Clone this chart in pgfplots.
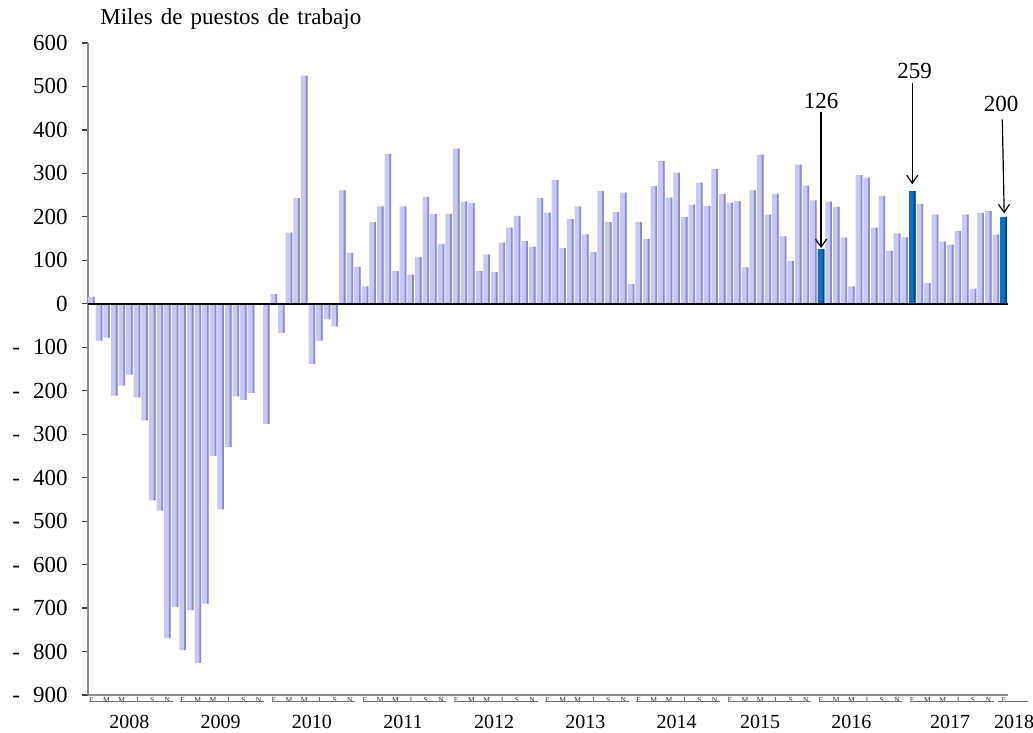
\documentclass[border=0pt]{standalone}
\usepackage{pgfplots}
\pgfplotsset{compat=1.18}
\usepackage{pgfplotstable}
\usepackage{fontspec}
\setmainfont{Liberation Serif}
\usetikzlibrary{arrows.meta}
\definecolor{barfill}{RGB}{200,200,245}
\definecolor{barshade}{RGB}{140,140,205}
\definecolor{hifill}{RGB}{16,112,190}
\definecolor{hishade}{RGB}{0,70,140}
\pgfplotstableread{
x y
0 16
1 -85
2 -78
3 -211
4 -188
5 -163
6 -215
7 -268
8 -452
9 -476
10 -769
11 -698
12 -797
13 -705
14 -826
15 -690
16 -350
17 -473
18 -330
19 -213
20 -221
21 -205
22 0
23 -276
24 22
25 -67
26 164
27 243
28 525
29 -138
30 -85
31 -36
32 -52
33 261
34 117
35 85
36 40
37 188
38 224
39 345
40 75
41 224
42 67
43 108
44 246
45 207
46 138
47 207
48 357
49 235
50 232
51 75
52 113
53 73
54 141
55 175
56 202
57 144
58 131
59 243
60 210
61 285
62 128
63 195
64 224
65 160
66 119
67 259
68 188
69 211
70 256
71 45
72 188
73 149
74 271
75 328
76 244
77 302
78 200
79 228
80 279
81 225
82 310
83 253
84 233
85 236
86 84
87 261
88 343
89 205
90 253
91 155
92 98
93 320
94 272
95 238
97 235
98 223
99 152
100 40
101 296
102 290
103 175
104 248
105 122
106 162
107 153
109 230
110 48
111 205
112 143
113 136
114 167
115 205
116 35
117 209
118 213
119 159
}\maindata
\pgfplotstableread{
x y
96 126
108 259
120 200
}\hidata
\begin{document}
\begin{tikzpicture}[x=1pt,y=1pt]
\path[use as bounding box] (0,0) rectangle (516.5,366.5);
\node[anchor=west,inner sep=0pt,font=\fontsize{11.5}{13}\selectfont] at (50,357) {Miles\hspace{0.1em} de\hspace{0.1em} puestos\hspace{0.1em} de\hspace{0.1em} trabajo};
\begin{axis}[
  at={(44pt,19pt)}, anchor=south west,
  width=460pt, height=326pt, scale only axis,
  xmin=-0.45, xmax=120.6, ymin=-900, ymax=600,
  axis x line*=bottom, axis y line*=left,
  axis line style={-, draw=black!45, line width=0.6pt},
  clip=false,
  ytick={-900,-800,-700,-600,-500,-400,-300,-200,-100,0,100,200,300,400,500,600},
  yticklabels={-\hspace{6.5pt}900,-\hspace{6.5pt}800,-\hspace{6.5pt}700,-\hspace{6.5pt}600,-\hspace{6.5pt}500,-\hspace{6.5pt}400,-\hspace{6.5pt}300,-\hspace{6.5pt}200,-\hspace{6.5pt}100,0,100,200,300,400,500,600},
  yticklabel style={font=\fontsize{11.5}{13}\selectfont, inner sep=0pt, xshift=-7pt},
  ytick style={draw=black!75, line width=0.6pt},
  tick align=outside, major tick length=3pt,
  xtick={0,2,...,120},
  xticklabels={E,M,M,J,S,N,E,M,M,J,S,N,E,M,M,J,S,N,E,M,M,J,S,N,E,M,M,J,S,N,E,M,M,J,S,N,E,M,M,J,S,N,E,M,M,J,S,N,E,M,M,J,S,N,E,M,M,J,S,N,E},
  xticklabel style={font=\fontsize{3.8}{4}\selectfont, inner sep=0pt, yshift=1.9pt, text=black!80},
  xtick style={draw=none},
]
\addplot[ybar, bar width=3.3pt, bar shift=0pt, fill=barfill, draw=none] table[x=x,y=y] {\maindata};
\addplot[ybar, bar width=0.9pt, bar shift=1.2pt, fill=barshade, draw=none] table[x=x,y=y] {\maindata};
\addplot[ybar, bar width=3.3pt, bar shift=0pt, fill=hifill, draw=none] table[x=x,y=y] {\hidata};
\addplot[ybar, bar width=0.9pt, bar shift=1.2pt, fill=hishade, draw=none] table[x=x,y=y] {\hidata};
\draw[black, line width=0.8pt] (axis cs:-0.45,0) -- (axis cs:120.6,0);
% year underlines
\begin{scope}[yshift=-3.3pt]
\draw[black!55, line width=0.6pt]
  (axis cs:-0.3,-900) -- (axis cs:10.7,-900)
  (axis cs:11.7,-900) -- (axis cs:22.7,-900)
  (axis cs:23.7,-900) -- (axis cs:34.7,-900)
  (axis cs:35.7,-900) -- (axis cs:46.7,-900)
  (axis cs:47.7,-900) -- (axis cs:58.7,-900)
  (axis cs:59.7,-900) -- (axis cs:70.7,-900)
  (axis cs:71.7,-900) -- (axis cs:82.7,-900)
  (axis cs:83.7,-900) -- (axis cs:94.7,-900)
  (axis cs:95.7,-900) -- (axis cs:106.7,-900)
  (axis cs:107.7,-900) -- (axis cs:118.7,-900)
  (axis cs:119.3,-900) -- (axis cs:123.2,-900);
\end{scope}
% year labels
\begin{scope}[every node/.style={font=\fontsize{10}{12}\selectfont, inner sep=0pt}]
\node at (axis cs:5,-900) [yshift=-13.5pt] {2008};
\node at (axis cs:17,-900) [yshift=-13.5pt] {2009};
\node at (axis cs:29,-900) [yshift=-13.5pt] {2010};
\node at (axis cs:41,-900) [yshift=-13.5pt] {2011};
\node at (axis cs:53,-900) [yshift=-13.5pt] {2012};
\node at (axis cs:65,-900) [yshift=-13.5pt] {2013};
\node at (axis cs:77,-900) [yshift=-13.5pt] {2014};
\node at (axis cs:88,-900) [yshift=-13.5pt] {2015};
\node at (axis cs:100,-900) [yshift=-13.5pt] {2016};
\node at (axis cs:113,-900) [yshift=-13.5pt] {2017};
\node at (axis cs:121.4,-900) [yshift=-13.5pt] {2018};
\end{scope}
% annotations
\begin{scope}[every node/.style={font=\fontsize{11.5}{13}\selectfont, inner sep=0pt}]
\node at (axis cs:96,466) {126};
\node at (axis cs:108.3,535) {259};
\node at (axis cs:119.7,459) {200};
\end{scope}
\draw[black, line width=0.6pt, -{Straight Barb[length=4pt,width=5.5pt]}] (axis cs:96,442) -- (axis cs:96,128);
\draw[black, line width=0.6pt, -{Straight Barb[length=4pt,width=5.5pt]}] (axis cs:108,507) -- (axis cs:108,275);
\draw[black, line width=0.6pt, -{Straight Barb[length=4pt,width=5.5pt]}] (axis cs:119.85,424) -- (axis cs:120.1,208);
\end{axis}
\end{tikzpicture}
\end{document}
